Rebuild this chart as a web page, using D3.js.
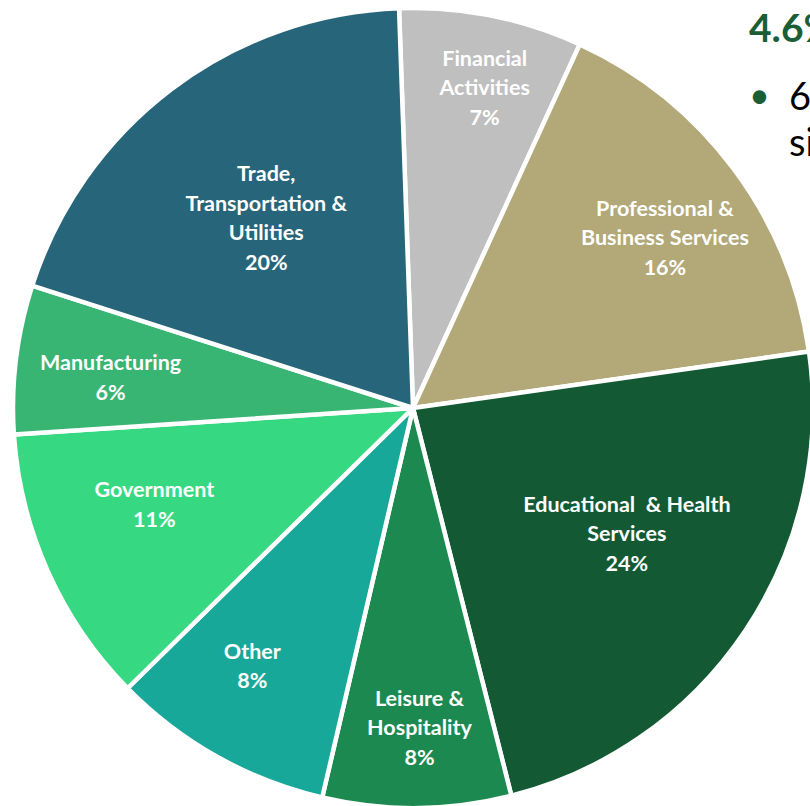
<!DOCTYPE html>
<html>
<head>
<meta charset="utf-8">
<script src="https://cdn.jsdelivr.net/npm/d3@7"></script>
<style>
  html, body { margin: 0; padding: 0; background: #fff; overflow: hidden; }
  svg { display: block; }
</style>
</head>
<body>
<div id="chart"></div>
<script>
// employment share by sector, clockwise from 12 o'clock
const sectors = [
  ['Financial', 'Activities'],
  ['Professional &', 'Business Services'],
  ['Educational  & Health', 'Services'],
  ['Leisure &', 'Hospitality'],
  ['Other'],
  ['Government'],
  ['Manufacturing'],
  ['Trade,', 'Transportation &', 'Utilities']
]
const shares = [7.4, 15.9, 23.3, 7.6, 9.0, 11.3, 6.0, 19.5]
const shareLabels = ['7%', '16%', '24%', '8%', '8%', '11%', '6%', '20%']
const colors = ['#bfbfbf', '#b2a878', '#135a34', '#1c8a50', '#18a89a', '#36d982', '#38b473', '#27667a']

// label placement: distance from centre (share of radius) and a small turn off the slice middle
const labelRadius = [0.82, 0.76, 0.62, 0.80, 0.76, 0.69, 0.76, 0.60]
const labelTurn = [1.3, 2.7, -3.4, -0.6, 2.6, 3.7, -1.2, -0.6]

const width = 810, height = 806
const cx = 413, cy = 408, radius = 400
const lineHeight = 29.5
const deg = Math.PI / 180

let svg = d3.select('#chart').append('svg')
  .attr('width', width).attr('height', height)

let pie = d3.pie().sort(null).value(function(d){ return d })
  .startAngle(-2 * deg).endAngle(358 * deg)

let arcs = pie(shares)
let arc = d3.arc().innerRadius(0).outerRadius(radius)

let g = svg.append('g').attr('transform', 'translate(' + cx + ',' + cy + ')')

g.selectAll('path').data(arcs).enter().append('path')
  .attr('d', arc)
  .attr('fill', function(d, i){ return colors[i] })
  .attr('stroke', '#fff')
  .attr('stroke-width', 4.5)
  .attr('stroke-linejoin', 'round')

let labelPos = function(d, i) {
  let a = (d.startAngle + d.endAngle) / 2 + labelTurn[i] * deg
  let r = labelRadius[i] * radius
  return [r * Math.sin(a), -r * Math.cos(a)]
}

let labels = g.selectAll('text.label').data(arcs).enter().append('text')
  .attr('class', 'label')
  .attr('text-anchor', 'middle')
  .attr('font-family', 'Lato, sans-serif')
  .attr('font-weight', 'bold')
  .attr('font-size', '21.5px')
  .attr('fill', '#fff')
  .attr('transform', function(d, i){
    let c = labelPos(d, i)
    return 'translate(' + c[0] + ',' + c[1] + ')'
  })

labels.each(function(d, i){
  let lines = sectors[i].concat([shareLabels[i]])
  let top = -(lines.length - 1) * lineHeight / 2
  let t = d3.select(this)
  lines.forEach(function(line, k){
    t.append('tspan')
      .attr('x', 0)
      .attr('y', top + k * lineHeight)
      .attr('dy', '0.35em')
      .style('white-space', 'pre')
      .text(line)
  })
})

// slide text bleeding in from the right
let side = svg.append('g').attr('font-family', 'Lato, sans-serif')
side.append('text')
  .attr('x', 749).attr('y', 42)
  .attr('font-size', '39px').attr('font-weight', 'bold')
  .attr('fill', '#1a5e35')
  .text('4.6%')
side.append('text')
  .attr('x', 749).attr('y', 108)
  .attr('font-size', '36px')
  .attr('fill', '#1a5e35')
  .text('•')
side.append('text')
  .attr('x', 789).attr('y', 110)
  .attr('font-size', '38px')
  .attr('fill', '#000')
  .text('6')
side.append('text')
  .attr('x', 789).attr('y', 156)
  .attr('font-size', '38px')
  .attr('fill', '#000')
  .text('si')
</script>
</body>
</html>
